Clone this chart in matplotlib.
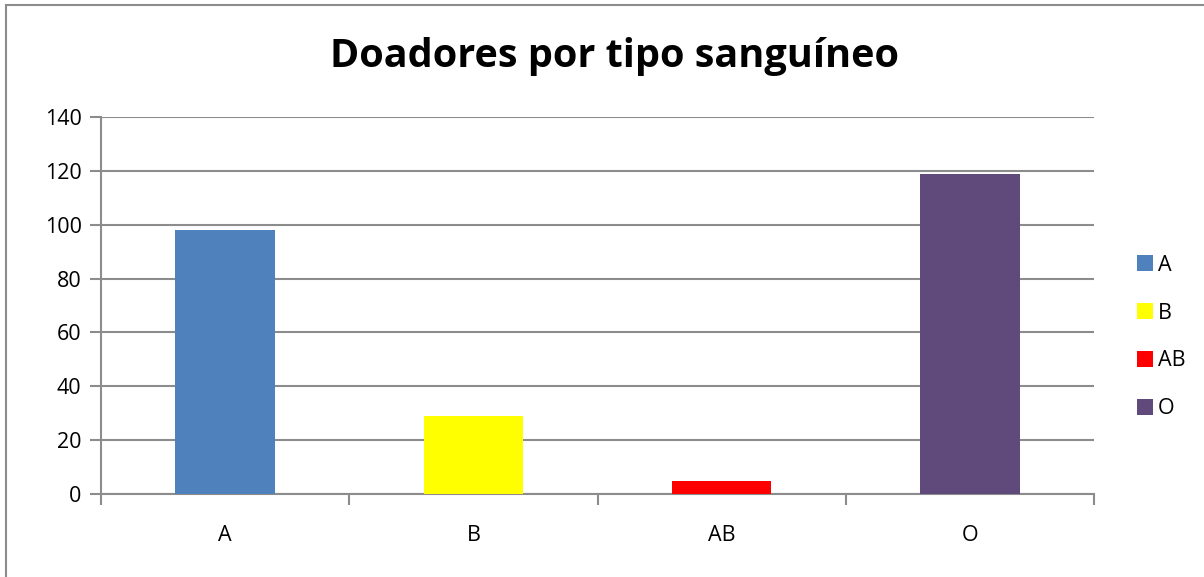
import matplotlib.pyplot as plt
from matplotlib.lines import Line2D
from matplotlib.patches import Patch

# dados do gráfico
tipos = ['A', 'B', 'AB', 'O']
doadores = [98, 29, 5, 119]
cores = ['#4F81BD', '#FFFF00', '#FF0000', '#604A7B']
y_ticks = [0, 20, 40, 60, 80, 100, 120, 140]

plt.rcParams['font.family'] = ['Open Sans', 'DejaVu Sans']

W, H = 1204, 577
fig = plt.figure(figsize=(W / 100, H / 100), dpi=100)
fig.patch.set_facecolor('white')

left, right, top, bottom = 101, 1094, 117, 494
ax = fig.add_axes([left / W, (H - bottom) / H, (right - left) / W, (bottom - top) / H])

x = list(range(len(tipos)))
ax.bar(x, doadores, width=0.40, color=cores, zorder=3)

ax.set_xlim(-0.5, len(tipos) - 0.5)
ax.set_ylim(0, 140)
ax.set_yticks(y_ticks)
ax.set_yticklabels([str(v) for v in y_ticks], fontsize=15.5)
ax.yaxis.grid(True, color='#8C8C8C', linewidth=1.5, zorder=0)

# ticks nas divisões das categorias, rótulos no centro
ax.set_xticks([i - 0.5 for i in range(len(tipos) + 1)])
ax.set_xticklabels([''] * (len(tipos) + 1))
ax.set_xticks(x, minor=True)
ax.set_xticklabels(tipos, minor=True, fontsize=15.5)
ax.tick_params(axis='x', which='minor', length=0, pad=22)
ax.tick_params(axis='x', which='major', length=8, width=1.5, color='#8C8C8C', direction='out')
ax.tick_params(axis='y', length=8, width=1.5, color='#8C8C8C', direction='out', pad=6)

for s in ['top', 'right']:
    ax.spines[s].set_visible(False)
for s in ['left', 'bottom']:
    ax.spines[s].set_color('#8C8C8C')
    ax.spines[s].set_linewidth(1.5)
ax.set_axisbelow(True)

fig.text(614 / W, 1 - 57 / H, 'Doadores por tipo sanguíneo', ha='center', va='center',
         fontsize=28.5, fontweight='bold')

handles = [Patch(facecolor=c, edgecolor='none') for c in cores]
fig.legend(handles, tipos, loc='center left', bbox_to_anchor=(1128 / W, 1 - 337 / H),
           frameon=False, fontsize=15.5, handlelength=0.75, handleheight=0.75,
           handletextpad=0.25, labelspacing=1.25, borderaxespad=0)

# borda da área do gráfico
fig.add_artist(Line2D([6 / W, 1], [1 - 5 / H, 1 - 5 / H], color='#8C8C8C', linewidth=1.5))
fig.add_artist(Line2D([6 / W, 6 / W], [0, 1 - 5 / H], color='#8C8C8C', linewidth=1.5))

fig.savefig('out.png', dpi=100)
